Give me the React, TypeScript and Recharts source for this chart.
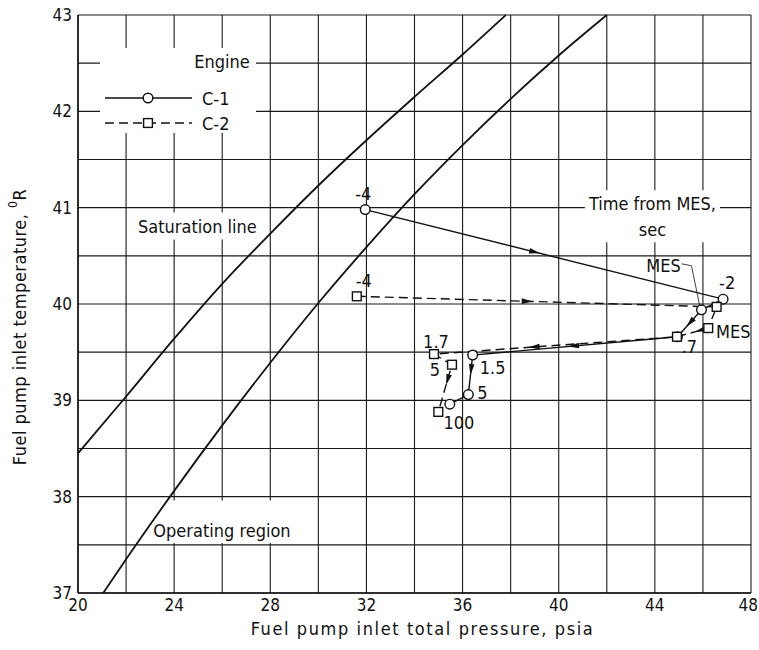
import React from 'react';
import {
  ComposedChart,
  Line,
  XAxis,
  YAxis,
  CartesianGrid,
  ReferenceArea,
  Legend,
} from 'recharts';

const FONT = "'DejaVu Sans Condensed', 'Liberation Sans Narrow', 'DejaVu Sans', sans-serif";

// Saturation line (psia, deg R)
const saturationPressure = [20, 22, 24, 26, 28, 30, 32, 34, 36, 37.8];
const saturationTemp = [38.45, 39.04, 39.64, 40.21, 40.73, 41.23, 41.7, 42.15, 42.59, 43.0];

// Operating-region boundary (psia, deg R)
const operatingPressure = [21.05, 22, 24, 26, 28, 30, 32, 34, 36, 38, 40, 42];
const operatingTemp = [37.0, 37.35, 38.06, 38.74, 39.39, 40.01, 40.59, 41.14, 41.65, 42.13, 42.58, 43.0];

// Engine C-1: time from MES (sec), pressure, temperature
const c1Time = ['-4', '-2', 'MES', '.7', '1.5', '5', '100'];
const c1Pressure = [31.95, 46.84, 45.94, 44.94, 36.42, 36.24, 35.47];
const c1Temp = [40.98, 40.05, 39.94, 39.66, 39.47, 39.06, 38.96];

// Engine C-2
const c2Time = ['-4', '-2', 'MES', '.7', '1.7', '5', '100'];
const c2Pressure = [31.6, 46.57, 46.22, 44.92, 34.81, 35.56, 34.99];
const c2Temp = [40.08, 39.97, 39.75, 39.66, 39.48, 39.37, 38.88];

// Where the direction arrow sits on each segment (fraction toward the next point)
const c1Arrow = [0.475, null, 0.49, 0.51, 0.38, null];
const c2Arrow = [0.475, null, 0.27, 0.59, null, 0.33];

const xTicks = [20, 22, 24, 26, 28, 30, 32, 34, 36, 38, 40, 42, 44, 46, 48];
const yTicks = [37, 37.5, 38, 38.5, 39, 39.5, 40, 40.5, 41, 41.5, 42, 42.5, 43];

const satData = saturationPressure.map((p, i) => ({ p, t: saturationTemp[i] }));
const opData = operatingPressure.map((p, i) => ({ p, t: operatingTemp[i] }));
const c1Data = c1Pressure.map((p, i) => ({ p, t: c1Temp[i], time: c1Time[i] }));
const c2Data = c2Pressure.map((p, i) => ({ p, t: c2Temp[i], time: c2Time[i] }));

type LabelStyle = { dx: number; dy: number; leader?: number[][] };

// Time-tag placement around each marker (pixels)
const c1LabelStyle: Record<string, LabelStyle> = {
  '-4': { dx: -2, dy: -16 },
  '-2': { dx: 4, dy: -17 },
  MES: { dx: -38, dy: -44, leader: [[-20, -46], [-10, -44], [-2, -5]] },
  '.7': { dx: 12, dy: 10 },
  '1.5': { dx: 20, dy: 12 },
  '5': { dx: 14, dy: -2 },
  '100': { dx: 9, dy: 18 },
};
const c2LabelStyle: Record<string, LabelStyle> = {
  '-4': { dx: 7, dy: -16 },
  MES: { dx: 25, dy: 3 },
  '1.7': { dx: 2, dy: -13 },
  '5': { dx: -17, dy: 5 },
};

const INK = '#111';
const X_MAX = xTicks[xTicks.length - 1];

function makeDot(kind: 'circle' | 'square', arrows: (number | null)[], labels: Record<string, LabelStyle>) {
  return (props: any) => {
    const { cx, cy, index, points, payload } = props;
    const parts: React.ReactNode[] = [];
    const f = arrows[index];
    if (f != null && points && points[index + 1]) {
      const a = points[index];
      const b = points[index + 1];
      const px = a.x + (b.x - a.x) * f;
      const py = a.y + (b.y - a.y) * f;
      const ang = (Math.atan2(b.y - a.y, b.x - a.x) * 180) / Math.PI;
      parts.push(
        <polygon
          key="arrow"
          points="5,0 -6,-2.8 -6,2.8"
          transform={`translate(${px},${py}) rotate(${ang})`}
          fill={INK}
        />
      );
    }
    if (kind === 'circle') {
      parts.push(<circle key="m" cx={cx} cy={cy} r={4.8} fill="#fff" stroke={INK} strokeWidth={1.4} />);
    } else {
      parts.push(
        <rect key="m" x={cx - 4.4} y={cy - 4.4} width={8.8} height={8.8} fill="#fff" stroke={INK} strokeWidth={1.4} />
      );
    }
    const ls = labels[payload.time];
    if (ls) {
      if (ls.leader) {
        const pts = ls.leader.map(([dx, dy]) => `${cx + dx},${cy + dy}`).join(' ');
        parts.push(<polyline key="lead" points={pts} fill="none" stroke={INK} strokeWidth={0.8} />);
      }
      parts.push(
        <text
          key="lbl"
          x={cx + ls.dx}
          y={cy + ls.dy}
          textAnchor="middle"
          dominantBaseline="central"
          fontFamily={FONT}
          fontSize={18}
          fill={INK}
        >
          {payload.time}
        </text>
      );
    }
    return <g key={`dot-${index}`}>{parts}</g>;
  };
}

// Pressure tick: labels every 4 psia, the last one kept inside the frame
const XTick = (props: any) => {
  const { x, y, payload } = props;
  const v = payload.value as number;
  if (v % 4 !== 0) return <g />;
  const last = v === X_MAX;
  return (
    <text
      x={last ? x + 7 : x}
      y={y - 2}
      dy="0.71em"
      textAnchor={last ? 'end' : 'middle'}
      fontFamily={FONT}
      fontSize={17}
      fill={INK}
    >
      {v}
    </text>
  );
};

const renderLegend = () => (
  <svg width={156} height={85} style={{ display: 'block', background: '#fff' }}>
    <text x={122} y={20} textAnchor="middle" fontFamily={FONT} fontSize={18} fill={INK}>
      Engine
    </text>
    <line x1={5} y1={50} x2={92} y2={50} stroke={INK} strokeWidth={1.3} />
    <circle cx={48} cy={50} r={4.8} fill="#fff" stroke={INK} strokeWidth={1.4} />
    <text x={102} y={50} dominantBaseline="central" fontFamily={FONT} fontSize={18} fill={INK}>
      C-1
    </text>
    <line x1={5} y1={75} x2={92} y2={75} stroke={INK} strokeWidth={1.3} strokeDasharray="9 5" />
    <rect x={43.6} y={70.6} width={8.8} height={8.8} fill="#fff" stroke={INK} strokeWidth={1.4} />
    <text x={102} y={75} dominantBaseline="central" fontFamily={FONT} fontSize={18} fill={INK}>
      C-2
    </text>
  </svg>
);

const boxText = (lines: string[], baselines: number[]) => (props: any) => {
  const vb = props.viewBox || {};
  const cx = vb.x + vb.width / 2;
  return (
    <g>
      {lines.map((s, i) => (
        <text key={i} x={cx} y={vb.y + baselines[i]} textAnchor="middle" fontFamily={FONT} fontSize={18} fill={INK}>
          {s}
        </text>
      ))}
    </g>
  );
};

const xTitle = (props: any) => {
  const vb = props.viewBox || {};
  return (
    <text
      x={vb.x + vb.width / 2 + 8}
      y={vb.y + 42}
      textAnchor="middle"
      fontFamily={FONT}
      fontSize={18}
      letterSpacing={1.6}
      fill={INK}
    >
      Fuel pump inlet total pressure, psia
    </text>
  );
};

const yTitle = (props: any) => {
  const vb = props.viewBox || {};
  const x = vb.x + 19;
  const y = vb.y + vb.height / 2 + 23;
  return (
    <text
      x={x}
      y={y}
      transform={`rotate(-90, ${x}, ${y})`}
      textAnchor="middle"
      dominantBaseline="central"
      fontFamily={FONT}
      fontSize={18}
      letterSpacing={0.5}
      fill={INK}
    >
      Fuel pump inlet temperature,{' '}
      <tspan fontSize={12} dy={-6}>
        0
      </tspan>
      <tspan dy={6}>R</tspan>
    </text>
  );
};

export default function App() {
  return (
    <div style={{ position: 'fixed', left: 0, top: 0, width: 759, height: 650, background: '#fff' }}>
      <ComposedChart width={759} height={650} margin={{ top: 15, right: 8, bottom: 0, left: 0 }}>
        <CartesianGrid stroke="#1a1a1a" strokeWidth={1.1} />
        <XAxis
          type="number"
          dataKey="p"
          domain={[20, 48]}
          ticks={xTicks}
          interval={0}
          tickLine={false}
          axisLine={{ stroke: INK, strokeWidth: 1.5 }}
          tick={<XTick />}
          height={57}
          label={{ content: xTitle }}
        />
        <YAxis
          type="number"
          dataKey="t"
          domain={[37, 43]}
          ticks={yTicks}
          interval={0}
          tickFormatter={(v: number) => (Number.isInteger(v) ? String(v) : '')}
          tickLine={false}
          tickMargin={0}
          axisLine={{ stroke: INK, strokeWidth: 1.5 }}
          tick={{ fill: INK, fontSize: 17, fontFamily: FONT }}
          width={78}
          label={{ content: yTitle }}
        />
        <ReferenceArea
          x1={22.16}
          x2={27.78}
          y1={40.67}
          y2={40.95}
          fill="#fff"
          fillOpacity={1}
          stroke="none"
          ifOverflow="visible"
          label={{ content: boxText(['Saturation line'], [21]) }}
        />
        <ReferenceArea
          x1={23.08}
          x2={28.9}
          y1={37.52}
          y2={37.96}
          fill="#fff"
          fillOpacity={1}
          stroke="none"
          ifOverflow="visible"
          label={{ content: boxText(['Operating region'], [36.5]) }}
        />
        <ReferenceArea
          x1={41.09}
          x2={46.71}
          y1={40.64}
          y2={41.18}
          fill="#fff"
          fillOpacity={1}
          stroke="none"
          ifOverflow="visible"
          label={{ content: boxText(['Time from MES,', 'sec'], [20, 46]) }}
        />
        <Line
          data={satData}
          dataKey="t"
          type="monotone"
          stroke={INK}
          strokeWidth={1.8}
          dot={false}
          activeDot={false}
          isAnimationActive={false}
        />
        <Line
          data={opData}
          dataKey="t"
          type="monotone"
          stroke={INK}
          strokeWidth={1.8}
          dot={false}
          activeDot={false}
          isAnimationActive={false}
        />
        <Line
          data={c1Data}
          dataKey="t"
          type="linear"
          stroke={INK}
          strokeWidth={1.4}
          dot={makeDot('circle', c1Arrow, c1LabelStyle)}
          activeDot={false}
          isAnimationActive={false}
        />
        <Line
          data={c2Data}
          dataKey="t"
          type="linear"
          stroke={INK}
          strokeWidth={1.4}
          strokeDasharray="9 5"
          dot={makeDot('square', c2Arrow, c2LabelStyle)}
          activeDot={false}
          isAnimationActive={false}
        />
        <Legend
          content={renderLegend}
          layout="horizontal"
          verticalAlign="middle"
          align="center"
          wrapperStyle={{ position: 'absolute', left: 100, top: 48, width: 156, height: 85, background: '#fff' }}
        />
      </ComposedChart>
    </div>
  );
}
